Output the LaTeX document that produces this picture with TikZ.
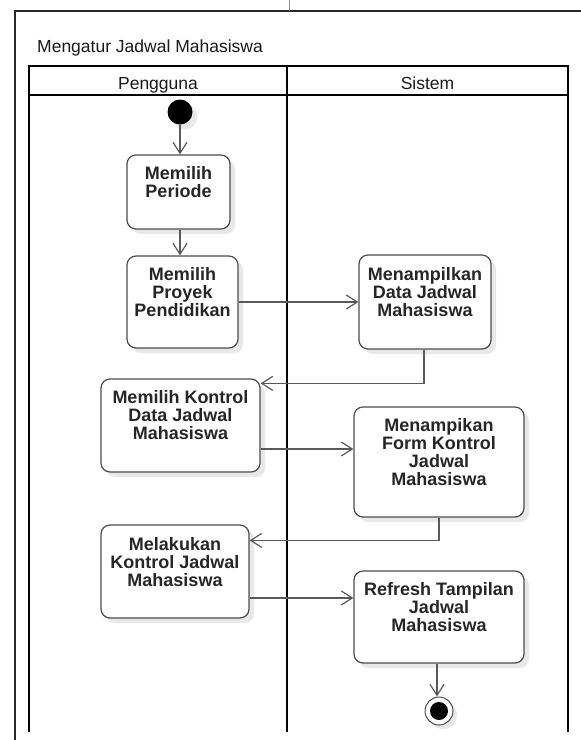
\documentclass[tikz,border=0pt]{standalone}
\usepackage{fontspec}
\setmainfont{Liberation Sans}
\usetikzlibrary{arrows.meta,shadows}
\begin{document}
\begin{tikzpicture}[x=1pt,y=-1pt,
  frameline/.style={draw=black!85, line width=1.2pt},
  lane/.style={draw=black, line width=2pt},
  hdr/.style={font=\fontsize{17.5}{18}\selectfont, text=black!90, inner sep=0, anchor=base},
  act/.style={draw=black!70, line width=1.2pt, fill=white, rounded corners=9pt, inner sep=0,
    drop shadow={shadow xshift=5pt, shadow yshift=-5pt, fill=black!9, opacity=1}},
  lbl/.style={font=\fontsize{18}{18}\selectfont\bfseries, text=black!85, align=center, inner sep=0, anchor=north},
  arr/.style={draw=black!65, line width=1.2pt, -{Straight Barb[length=11pt,width=14pt]}}
]
\useasboundingbox (0,0) rectangle (581,740);
% outer frame
\draw[frameline] (15,740) -- (15,11) -- (581,11);
\draw[draw=black!45, line width=0.8pt] (289,0) -- (289,11);
\node[hdr, anchor=base west] (title) at (37,52) {Mengatur Jadwal Mahasiswa};
% swimlanes
\draw[lane] (29,732) -- (29,66) -- (568,66) -- (568,732);
\draw[lane] (29,95) -- (568,95);
\draw[lane] (287,66) -- (287,732);
\node[hdr] (h1) at (158,89) {Pengguna};
\node[hdr] (h2) at (427.5,89) {Sistem};
% start
\node[circle, fill=black, minimum size=25pt, inner sep=0,
  drop shadow={shadow xshift=5pt, shadow yshift=-5pt, fill=black!9, opacity=1}] (init) at (180,112) {};
% activities
\node[act, minimum width=103pt, minimum height=74pt] (b1) at (178.5,192) {};
\node[act, minimum width=111pt, minimum height=92pt] (b2) at (182.5,302) {};
\node[act, minimum width=132pt, minimum height=94pt] (b3) at (425,302) {};
\node[act, minimum width=159pt, minimum height=93pt] (b4) at (180.5,425.5) {};
\node[act, minimum width=170pt, minimum height=110pt] (b5) at (439,462) {};
\node[act, minimum width=148pt, minimum height=93pt] (b6) at (175,571.5) {};
\node[act, minimum width=170pt, minimum height=92pt] (b7) at (439,617) {};
\node[lbl] (t1) at ([yshift=-12pt]b1.north) {Memilih\\Periode};
\node[lbl] (t2) at ([yshift=-12pt]b2.north) {Memilih\\Proyek\\Pendidikan};
\node[lbl] (t3) at ([yshift=-13pt]b3.north) {Menampilkan\\Data Jadwal\\Mahasiswa};
\node[lbl] (t4) at ([yshift=-12pt]b4.north) {Memilih Kontrol\\Data Jadwal\\Mahasiswa};
\node[lbl] (t5) at ([yshift=-12pt]b5.north) {Menampikan\\Form Kontrol\\Jadwal\\Mahasiswa};
\node[lbl] (t6) at ([yshift=-13pt]b6.north) {Melakukan\\Kontrol Jadwal\\Mahasiswa};
\node[lbl] (t7) at ([yshift=-12pt]b7.north) {Refresh Tampilan\\Jadwal\\Mahasiswa};
% final
\node[circle, draw=black!70, line width=1pt, fill=white, minimum size=28pt, inner sep=0,
  drop shadow={shadow xshift=4pt, shadow yshift=-4pt, fill=black!9, opacity=1}] (fin) at (439,711) {};
\node[circle, fill=black, minimum size=18pt, inner sep=0] (finin) at (fin.center) {};
% connectors
\draw[arr] (init) -- (init |- b1.north);
\draw[arr] (b1.south -| 180,0) -- (b2.north -| 180,0);
\draw[arr] (b2) -- (b3);
\draw[arr] (b3.south -| 424,0) |- ([yshift=-5pt]b4.north east);
\draw[arr] (b4.east |- 0,449) -- (b5.west |- 0,449);
\draw[arr] (b5.south -| 439,0) |- ([yshift=-16pt]b6.north east);
\draw[arr] (b6.east |- 0,598) -- (b7.west |- 0,598);
\draw[arr] (b7.south -| 437,0) -- (fin.north -| 437,0);
\end{tikzpicture}
\end{document}
